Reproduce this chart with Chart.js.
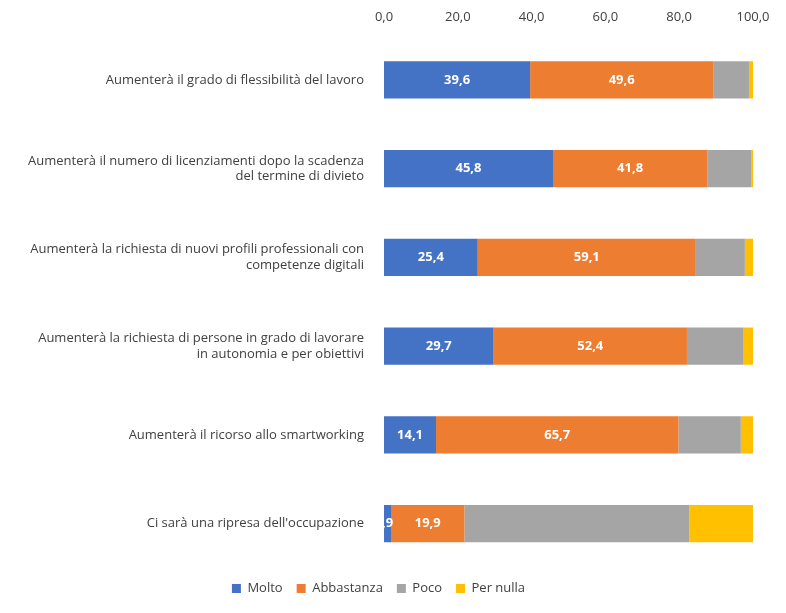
<!DOCTYPE html>
<html lang="it">
<head>
<meta charset="UTF-8">
<script src="https://cdn.jsdelivr.net/npm/chart.js"></script>
<style>
  body { margin: 0; background: #fff; }
  .chart-container { position: relative; width: 786px; height: 613px; }
</style>
</head>
<body>
<div class="chart-container"><canvas id="chart"></canvas></div>
<script>
// Dati
const categories = [
  "Aumenterà il grado di flessibilità del lavoro",
  ["Aumenterà il numero di licenziamenti dopo la scadenza", "del termine di divieto"],
  ["Aumenterà la richiesta di nuovi profili professionali con", "competenze digitali"],
  ["Aumenterà la richiesta di persone in grado di lavorare", "in autonomia e per obiettivi"],
  "Aumenterà il ricorso allo smartworking",
  "Ci sarà una ripresa dell'occupazione"
];
const molto = [39.6, 45.8, 25.4, 29.7, 14.1, 1.9];
const abbastanza = [49.6, 41.8, 59.1, 52.4, 65.7, 19.9];
const poco = [9.7, 11.9, 13.3, 15.2, 16.9, 60.9];
const perNulla = [1.1, 0.5, 2.2, 2.7, 3.3, 17.3];
const seriesNames = ["Molto", "Abbastanza", "Poco", "Per nulla"];
const colors = ["#4472c4", "#ed7d31", "#a5a5a5", "#ffc000"];

const fmt = v => v.toFixed(1).replace('.', ',');

// etichette bianche dentro le barre (solo le prime due serie)
const labelPlugin = {
  id: 'barLabels',
  afterDatasetsDraw(chart) {
    const ctx = chart.ctx;
    ctx.save();
    ctx.font = 'bold 13px "Open Sans", sans-serif';
    ctx.fillStyle = '#fff';
    ctx.textAlign = 'center';
    ctx.textBaseline = 'middle';
    [0, 1].forEach(i => {
      chart.getDatasetMeta(i).data.forEach((bar, j) => {
        const v = chart.data.datasets[i].data[j];
        let txt = fmt(v);
        if (v < 5) txt = txt.slice(1);
        ctx.fillText(txt, (bar.x + bar.base) / 2, bar.y);
      });
    });
    ctx.restore();
  }
};

Chart.defaults.font.family = '"Open Sans", sans-serif';
Chart.defaults.font.size = 13;
Chart.defaults.color = '#404040';

new Chart(document.getElementById('chart'), {
  type: 'bar',
  data: {
    labels: categories,
    datasets: [molto, abbastanza, poco, perNulla].map((d, i) => ({
      label: seriesNames[i],
      data: d,
      backgroundColor: colors[i],
      categoryPercentage: 0.42,
      barPercentage: 1
    }))
  },
  options: {
    indexAxis: 'y',
    responsive: true,
    maintainAspectRatio: false,
    animation: false,
    layout: { padding: { top: 6, right: 33, bottom: 8, left: 4 } },
    scales: {
      x: {
        position: 'top',
        stacked: true,
        min: 0, max: 100,
        ticks: { stepSize: 20, callback: v => fmt(v), color: '#404040' },
        grid: { display: false },
        border: { display: false }
      },
      y: {
        stacked: true,
        grid: { display: false },
        border: { display: false },
        ticks: { color: '#404040', padding: 12 },
        afterFit(scale) { scale.width = 380; }
      }
    },
    plugins: {
      legend: {
        position: 'bottom',
        labels: { boxWidth: 9, boxHeight: 9, padding: 14, color: '#404040' }
      },
      tooltip: { enabled: false }
    }
  },
  plugins: [labelPlugin]
});
</script>
</body>
</html>
